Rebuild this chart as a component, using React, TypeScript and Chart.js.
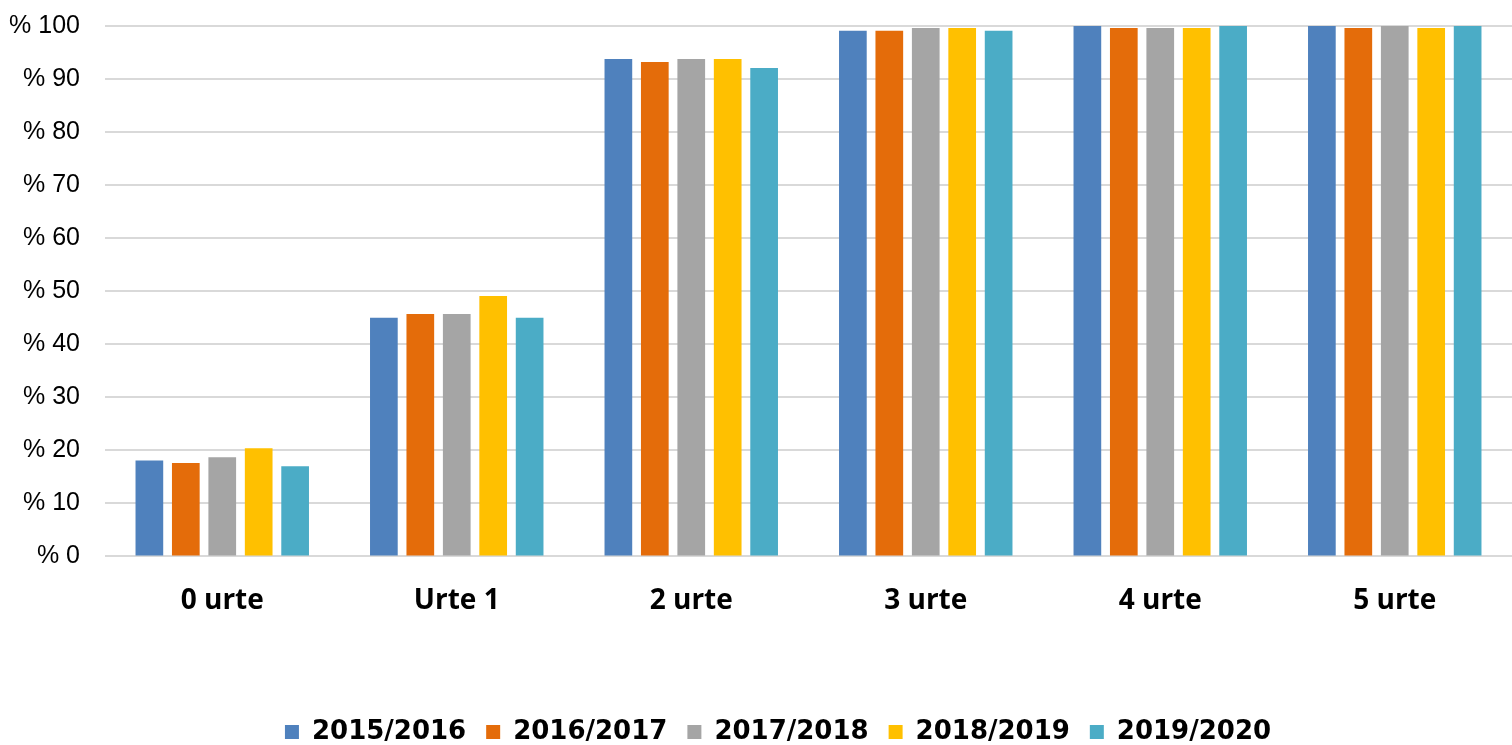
import React, { useEffect, useRef } from "react";
import { Chart, registerables } from "chart.js";

Chart.register(...registerables);

const categories = ["0 urte", "Urte 1", "2 urte", "3 urte", "4 urte", "5 urte"];
const seriesNames = ["2015/2016", "2016/2017", "2017/2018", "2018/2019", "2019/2020"];
const s2015 = [18.1, 45.0, 93.8, 99.1, 100, 100];
const s2016 = [17.6, 45.7, 93.2, 99.1, 99.6, 99.6];
const s2017 = [18.7, 45.7, 93.8, 99.6, 99.6, 100];
const s2018 = [20.4, 49.1, 93.8, 99.6, 99.6, 99.6];
const s2019 = [17.0, 45.0, 92.1, 99.1, 100, 100];
const colors = ["#4f81bd", "#e46c0a", "#a5a5a5", "#ffc000", "#4bacc6"];
const yTicks = [0, 10, 20, 30, 40, 50, 60, 70, 80, 90, 100];

const legendShift = {
  id: "legendShift",
  afterLayout(chart: any) {
    if (chart.legend) {
      chart.legend.left += 22;
      chart.legend.right += 22;
    }
  },
};

export default function App() {
  const ref = useRef<HTMLCanvasElement | null>(null);
  useEffect(() => {
    if (!ref.current) return;
    const all = [s2015, s2016, s2017, s2018, s2019];
    const chart = new Chart(ref.current, {
      type: "bar",
      data: {
        labels: categories,
        datasets: all.map((d, i) => ({
          label: seriesNames[i],
          data: d,
          backgroundColor: colors[i],
          borderWidth: 0,
          categoryPercentage: 0.777,
          barPercentage: 0.76,
        })),
      },
      plugins: [legendShift],
      options: {
        animation: false,
        responsive: true,
        maintainAspectRatio: false,
        layout: { padding: { left: 0, right: 0, top: 26, bottom: -10 } },
        plugins: {
          tooltip: { enabled: false },
          legend: {
            position: "bottom",
            labels: {
              boxWidth: 14,
              boxHeight: 14,
              padding: 20,
              color: "#000",
              font: { family: "'DejaVu Sans', sans-serif", weight: "bold", size: 26 },
            },
          },
        },
        scales: {
          x: {
            grid: { display: false, drawTicks: false },
            border: { display: false },
            afterFit: (scale: any) => {
              scale.height += 53;
            },
            ticks: {
              padding: 28,
              color: "#000",
              font: { family: "'Open Sans', sans-serif", weight: "bold", size: 28 },
            },
          },
          y: {
            min: 0,
            max: 100,
            afterBuildTicks: (axis: any) => {
              axis.ticks = yTicks.map((v) => ({ value: v }));
            },
            afterFit: (scale: any) => {
              scale.width = 105;
              scale.paddingTop = 0;
              scale.paddingBottom = 0;
            },
            grid: { color: "#d9d9d9", lineWidth: 2, drawTicks: false },
            border: { display: false },
            ticks: {
              padding: 25,
              color: "#000",
              font: { family: "'Liberation Sans', sans-serif", size: 25 },
              callback: (v: any) => "% " + v,
            },
          },
        },
      },
    });
    return () => chart.destroy();
  }, []);
  return (
    <div style={{ position: "absolute", left: 0, top: 0, width: 1512, height: 745 }}>
      <canvas ref={ref} />
    </div>
  );
}
